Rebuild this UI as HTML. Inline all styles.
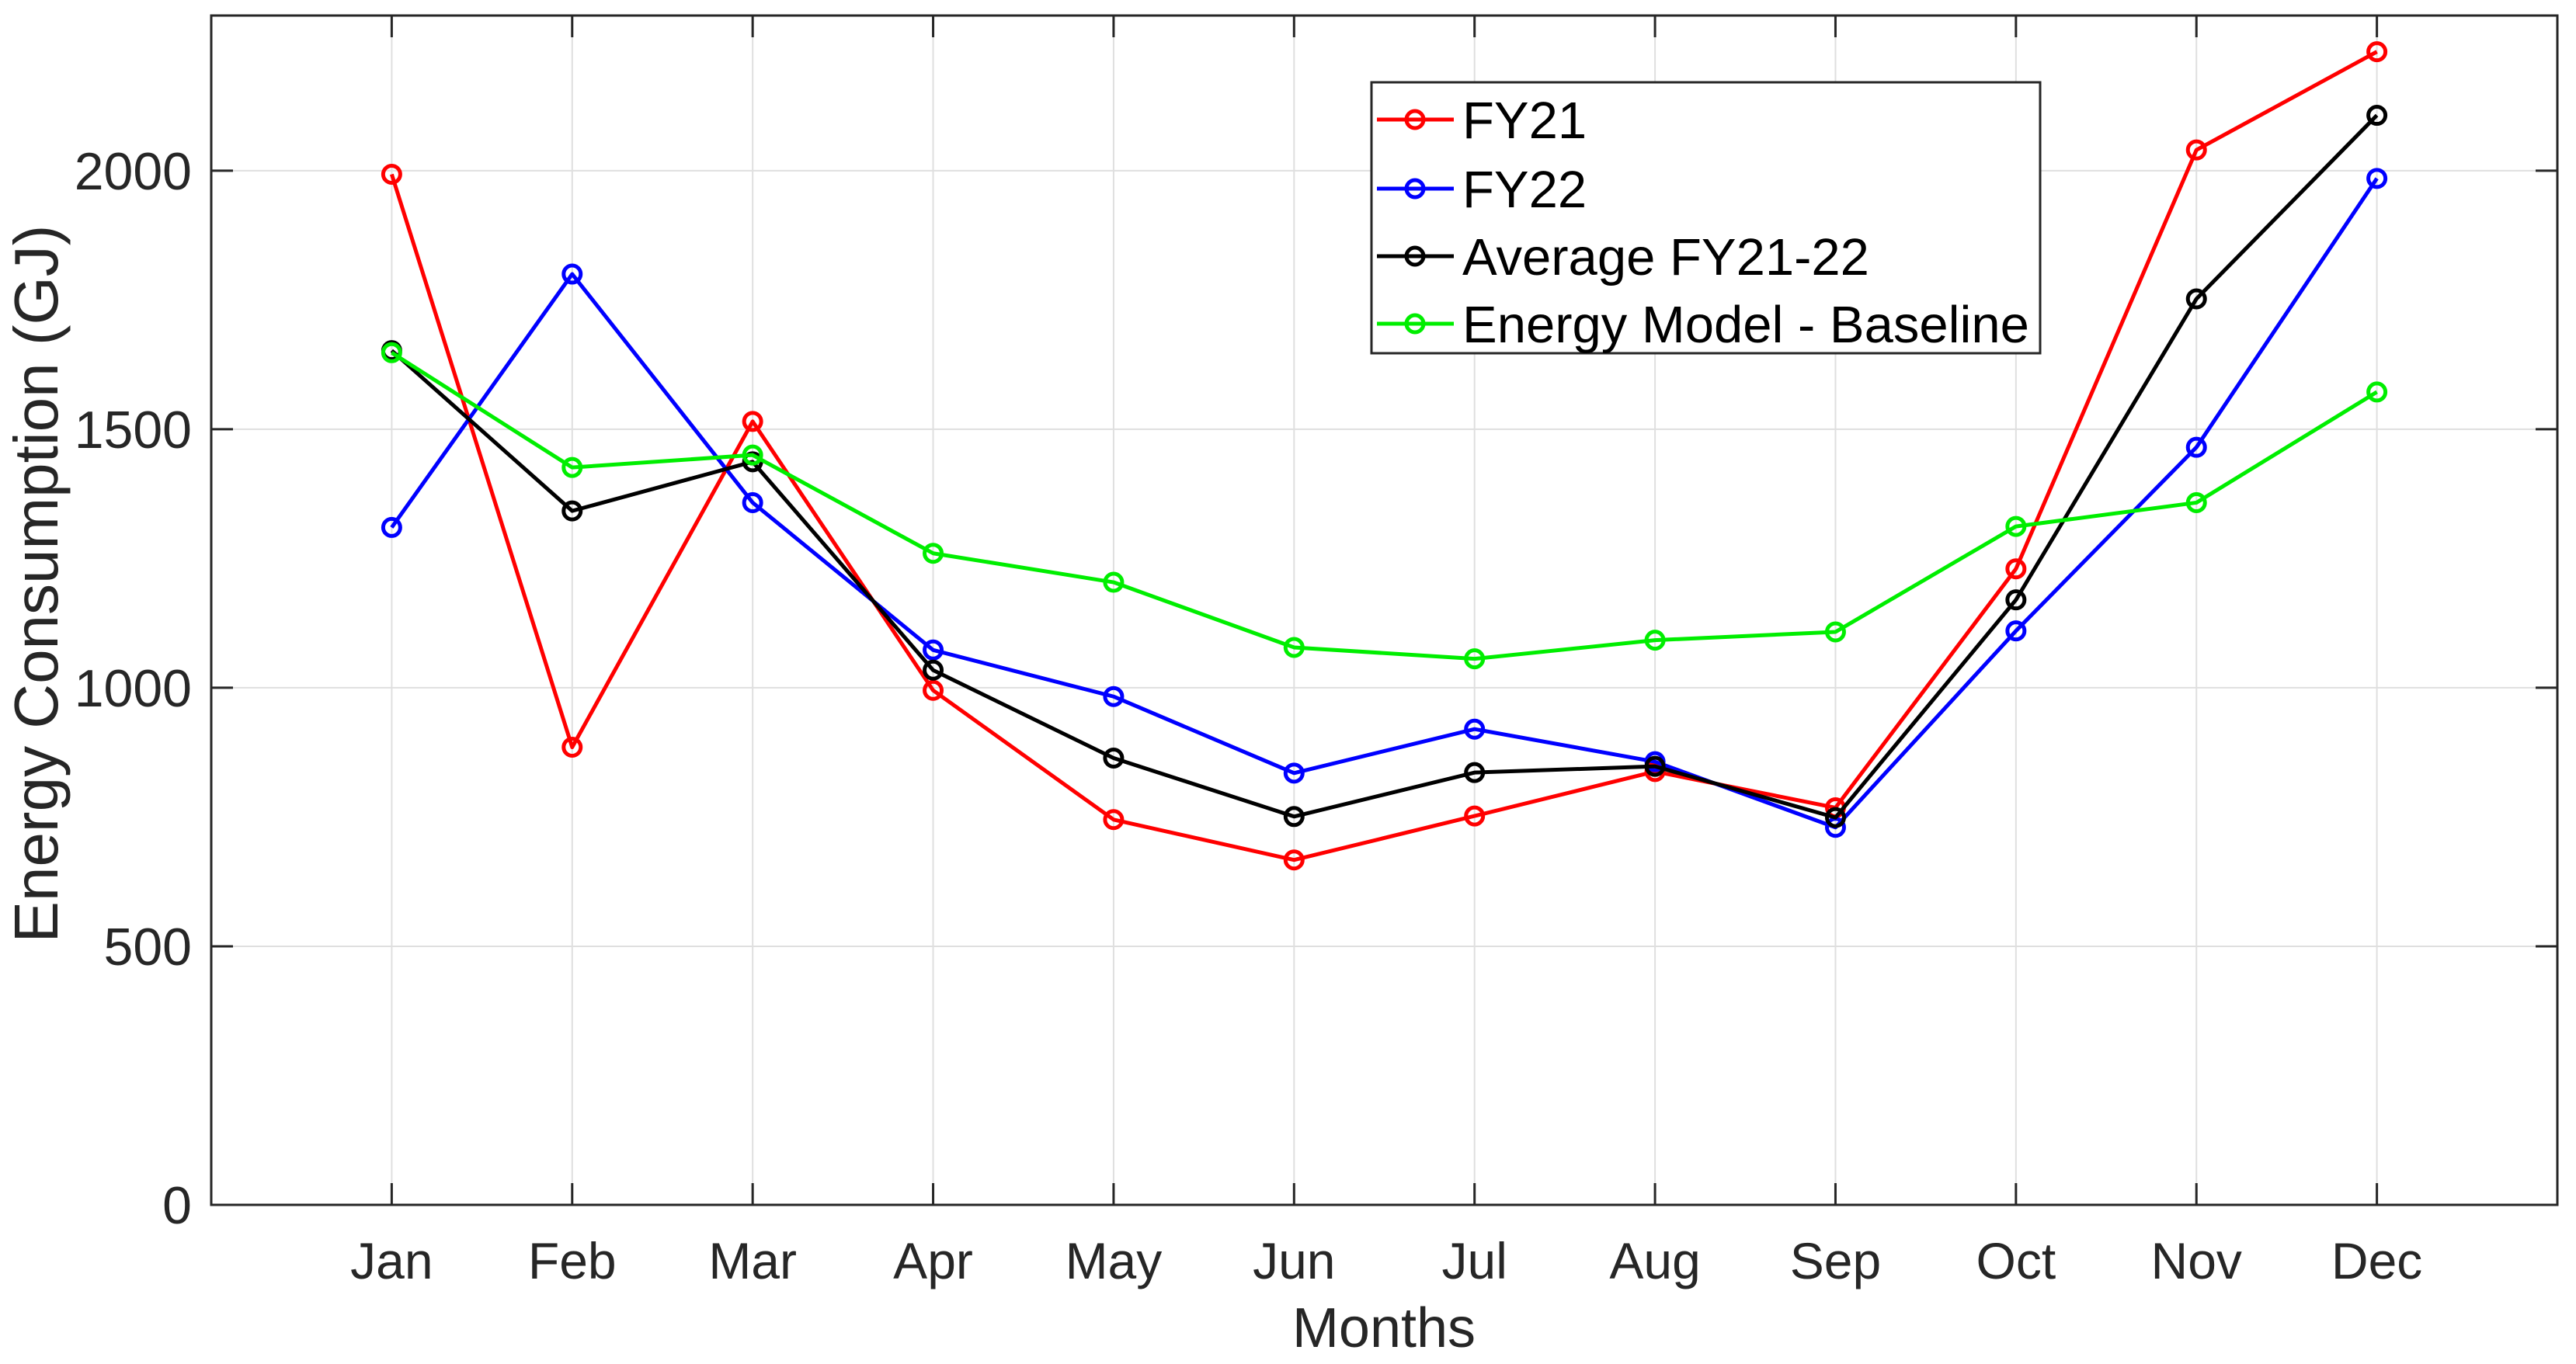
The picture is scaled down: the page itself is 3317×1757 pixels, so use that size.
<!DOCTYPE html>
<html><head><meta charset="utf-8"><style>
html,body{margin:0;padding:0;background:#fff;}
svg{display:block;font-family:"Liberation Sans",Arial,sans-serif;}
</style></head><body>
<svg id="chart" width="3317" height="1757" viewBox="0 0 3317 1757">
<g id="grid"></g>
<g id="series"></g>
<g id="axes"></g>
<text x="1782" y="1735" font-size="72" text-anchor="middle" fill="#262626">Months</text>
<text transform="translate(74,752) rotate(-90)" font-size="80" text-anchor="middle" fill="#262626">Energy Consumption (GJ)</text>
<g id="legend"></g>
</svg>
<script>
const months = ["Jan","Feb","Mar","Apr","May","Jun","Jul","Aug","Sep","Oct","Nov","Dec"];
const fy21 = [1993,885,1515,995,745,667,752,838,768,1230,2040,2230];
const fy22 = [1310,1800,1358,1073,983,835,920,857,730,1110,1465,1985];
const avg2122 = [1652,1342,1437,1034,864,751,836,848,749,1170,1752,2107];
const baseline = [1648,1426,1450,1260,1204,1078,1056,1092,1108,1312,1358,1572];
const yTicks = [0,500,1000,1500,2000];
const seriesNames = ["FY21","FY22","Average FY21-22","Energy Model - Baseline"];

const L=272,R=3293,T=20,B=1552, XMIN=0,XMAX=13,YMIN=0,YMAX=2300;
const NS="http://www.w3.org/2000/svg";
function xs(i){return L+(i+1-XMIN)/(XMAX-XMIN)*(R-L);}
function ys(v){return B-(v-YMIN)/(YMAX-YMIN)*(B-T);}
function mk(tag,attrs,parent){const e=document.createElementNS(NS,tag);for(const k in attrs)e.setAttribute(k,attrs[k]);parent.appendChild(e);return e;}
const grid=document.getElementById('grid'),axes=document.getElementById('axes'),ser=document.getElementById('series'),leg=document.getElementById('legend');

months.forEach((m,i)=>{
  const x=xs(i);
  const g=mk('line',{x1:x,x2:x,y1:T,y2:B,stroke:'#dfdfdf','stroke-width':2},grid);
  
  
  const t1=mk('line',{x1:x,x2:x,y1:B,y2:B-28,stroke:'#262626','stroke-width':3},axes);
  
  
  const t2=mk('line',{x1:x,x2:x,y1:T,y2:T+28,stroke:'#262626','stroke-width':3},axes);
  
  
  const lb=mk('text',{x:x,y:1647,'font-size':66,'text-anchor':'middle',fill:'#262626'},axes);
  lb.textContent=m;
  
  
});
yTicks.forEach(v=>{
  const y=ys(v);
  const g=mk('line',{x1:L,x2:R,y1:y,y2:y,stroke:'#dfdfdf','stroke-width':2},grid);
  
  
  const t1=mk('line',{x1:L,x2:L+28,y1:y,y2:y,stroke:'#262626','stroke-width':3},axes);
  
  
  const t2=mk('line',{x1:R,x2:R-28,y1:y,y2:y,stroke:'#262626','stroke-width':3},axes);
  
  
  const lb=mk('text',{x:L-25,y:y+24,'font-size':68,'text-anchor':'end',fill:'#262626'},axes);
  lb.textContent=String(v);
  
  
});
const box=mk('rect',{x:L,y:T,width:R-L,height:B-T,fill:'none',stroke:'#262626','stroke-width':3},axes);



const allSeries=[[fy21,'#ff0000','fy21'],[fy22,'#0000ff','fy22'],[avg2122,'#000000','average-fy21-22'],[baseline,'#00ee00','energy-model-baseline']];
allSeries.forEach(([vals,col,name])=>{
  const g=mk('g',{},ser);
  
  
  const pts=vals.map((v,i)=>xs(i)+','+ys(v)).join(' ');
  const pl=mk('polyline',{points:pts,fill:'none',stroke:col,'stroke-width':5,'stroke-linejoin':'round'},g);
  
  
  vals.forEach((v,i)=>{
    const c=mk('circle',{cx:xs(i),cy:ys(v),r:11,fill:'none',stroke:col,'stroke-width':5},g);
    
    
  });
});

const lbox=mk('rect',{x:1766,y:106,width:861,height:349,fill:'#fff',stroke:'#262626','stroke-width':3},leg);


const ly=[154,243,330,417];
allSeries.forEach(([vals,col,name],k)=>{
  const g=mk('g',{},leg);
  
  
  mk('line',{x1:1773,x2:1872,y1:ly[k],y2:ly[k],stroke:col,'stroke-width':5},g);
  mk('circle',{cx:1822,cy:ly[k],r:11,fill:'none',stroke:col,'stroke-width':5},g);
  const t=mk('text',{x:1883,y:ly[k]+24,'font-size':67,fill:'#000'},g);
  t.textContent=seriesNames[k];
  
  
});
</script>
</body></html>
